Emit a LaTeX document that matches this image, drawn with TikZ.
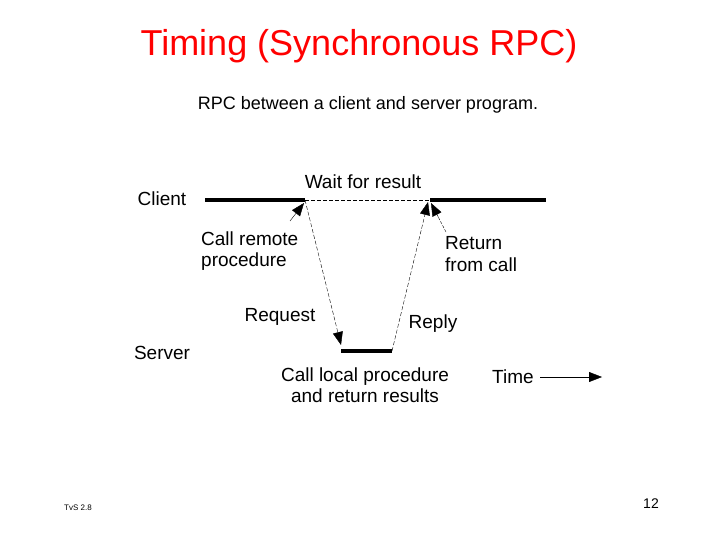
\documentclass[tikz,border=0pt]{standalone}
\usepackage{fontspec}
\setmainfont{Liberation Sans}
\usetikzlibrary{arrows.meta,calc}
\begin{document}
\begin{tikzpicture}[x=1pt,y=-1pt,
  lbl/.style={inner sep=0pt,font=\fontsize{19}{21.5}\selectfont},
  tl/.style={line width=4pt},
  dl/.style={dashed,thin,dash pattern=on 4pt off 2pt},
  ah/.style={-{Triangle[length=13pt,width=10pt]}}]
\useasboundingbox[fill=white] (0,0) rectangle (720,540);
\node[inner sep=0pt,text=red,font=\fontsize{36}{40}\selectfont] (title) at (359,46) {Timing (Synchronous RPC)};
\node[inner sep=0pt,font=\fontsize{18}{21}\selectfont] (sub) at (368,105) {RPC between a client and server program.};
\coordinate (c1) at (205,200); \coordinate (c2) at (305,200);
\coordinate (c3) at (430,200); \coordinate (c4) at (546,200);
\coordinate (s1) at (341,351); \coordinate (s2) at (392,351);
\draw[tl] (c1) -- (c2); \draw[tl] (c3) -- (c4); \draw[tl] (s1) -- (s2);
\draw[dl] (c2) -- (c3);
\coordinate (rq) at (341,345); \coordinate (rp) at (428,202);
\draw[dl,ah] (c2) -- (rq);
\draw[dl,ah] (s2) -- (rp);
\coordinate (a1) at (290,221); \coordinate (a1e) at (304,203);
\draw[thin,ah] (a1) -- (a1e);
\coordinate (a2) at (446,232); \coordinate (a2e) at (431,203);
\coordinate (a2m) at ($(a2)!0.5!(a2e)$);
\draw[thin,dash pattern=on 3pt off 1.5pt] (a2) -- (a2m);
\draw[ah] (a2m) -- (a2e);
\node[lbl] (client) at (162,199) {Client};
\node[lbl] (server) at (162,353) {Server};
\node[lbl] (wait) at (363,182) {Wait for result};
\node[lbl,align=left,anchor=west] (crp) at (201,251) {Call remote\\procedure};
\node[lbl,align=left,anchor=west] (rfc) at (445,254) {Return\\from call};
\node[lbl] (req) at (280,317) {Request};
\node[lbl] (rep) at (433,324) {Reply};
\node[lbl,align=center] (clp) at (365,385) {Call local procedure\\and return results};
\node[lbl] (time) at (513,377) {Time};
\coordinate (t1) at (540,377); \coordinate (t2) at (602,377);
\draw[ah] (t1) -- (t2);
\node[inner sep=0pt,font=\fontsize{8}{9}\selectfont] (tvs) at (78,508) {TvS 2.8};
\node[inner sep=0pt,font=\fontsize{14}{16}\selectfont] (pg) at (651,504) {12};
\end{tikzpicture}
\end{document}
